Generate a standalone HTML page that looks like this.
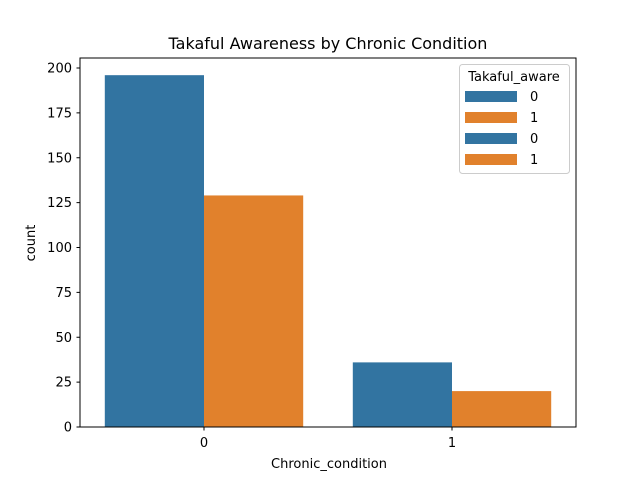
<!DOCTYPE html>
<html><head><meta charset="utf-8"><style>
body{margin:0;background:#fff}
svg text{font-family:"DejaVu Sans","Liberation Sans",sans-serif;fill:#000}
</style></head><body>
<svg width="640" height="480">
<text x="328" y="49" font-size="16" text-anchor="middle">Takaful Awareness by Chronic Condition</text>
<g id="bars"></g>
<rect x="80" y="58" width="496" height="369" fill="none" stroke="#000" stroke-width="1"/>
<g id="yticks"></g><g id="xticks"></g>
<text x="329" y="468" font-size="13" text-anchor="middle">Chronic_condition</text>
<text x="35" y="243" font-size="13" text-anchor="middle" transform="rotate(-90 35 243)">count</text>
<g>
<rect x="459.5" y="64.5" width="110" height="109" rx="3" fill="#fff" fill-opacity="0.8" stroke="#ccc"/>
<text x="514" y="81" font-size="13" text-anchor="middle">Takaful_aware</text>
<g id="legend-items"></g>
</g>
</svg>
<script>
const categories=["0","1"];
const aware0=[196,36];
const aware1=[129,20];
const yTicks=[0,25,50,75,100,125,150,175,200];
const legendLabels=["0","1","0","1"];
const colors=["#3274a1","#e1812c"];
const NS="http://www.w3.org/2000/svg";
const X=v=>80+(v+0.5)*248, Y=v=>427-v*1.795;
function mk(t,a,p){const e=document.createElementNS(NS,t);for(const k in a)e.setAttribute(k,a[k]);p.appendChild(e);return e;}
const bars=document.getElementById('bars');
[aware0,aware1].forEach((s,si)=>s.forEach((v,i)=>{
 const r=mk('rect',{x:X(i-0.4+si*0.4),y:Y(v),width:0.4*248,height:Y(0)-Y(v),fill:colors[si]},bars);
 
 
}));
const yt=document.getElementById('yticks');
yTicks.forEach(t=>{
 const l=mk('line',{x1:76.5,x2:80,y1:Y(t),y2:Y(t),stroke:'#000'},yt);
 
 
 const tx=mk('text',{x:72,y:Y(t)+4.5,'font-size':13,'text-anchor':'end'},yt);tx.textContent=t;
 
 
});
const xt=document.getElementById('xticks');
categories.forEach((c,i)=>{
 const l=mk('line',{x1:X(i),x2:X(i),y1:427,y2:430.5,stroke:'#000'},xt);
 
 
 const tx=mk('text',{x:X(i),y:447,'font-size':13,'text-anchor':'middle'},xt);tx.textContent=c;
 
 
});
const li=document.getElementById('legend-items');
legendLabels.forEach((lab,i)=>{
 const y=91+i*21;
 const r=mk('rect',{x:465,y:y,width:52,height:11,fill:colors[i%2]},li);
 
 
 const tx=mk('text',{x:530,y:y+10,'font-size':13},li);tx.textContent=lab;
 
 
});
</script>
</body></html>
